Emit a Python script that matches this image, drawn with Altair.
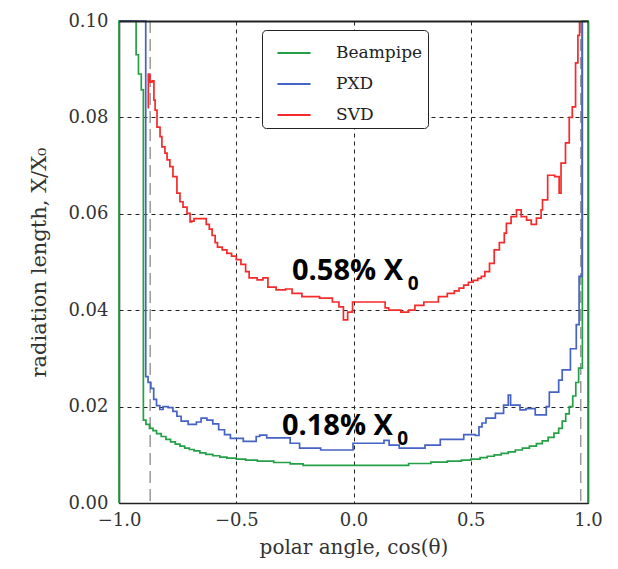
import altair as alt
import pandas as pd

# ---------------- data ----------------
series_names = ["Beampipe", "PXD", "SVD"]
series_colors = ["#23a046", "#4563c4", "#f52a2a"]

beampipe_cos = [-1.0, -1.0, -0.927, -0.917, -0.905, -0.896, -0.885, -0.870, -0.855, -0.840,
                -0.820, -0.800, -0.780, -0.760, -0.740, -0.720, -0.700, -0.680, -0.655, -0.630,
                -0.600, -0.570, -0.540, -0.500, -0.460, -0.410, -0.340, -0.270, -0.215, 0.235,
                0.330, 0.400, 0.460, 0.500, 0.540, 0.570, 0.600, 0.630, 0.660, 0.690,
                0.720, 0.750, 0.780, 0.805, 0.830, 0.855, 0.875, 0.890, 0.905, 0.920,
                0.935, 0.948, 0.960, 0.976, 1.0]
beampipe_x0 = [0.0, 0.5, 0.093, 0.089, 0.0857, 0.0172, 0.0163, 0.0155, 0.0150, 0.0144,
               0.0138, 0.0132, 0.0127, 0.0122, 0.0118, 0.0114, 0.0111, 0.0108, 0.0104, 0.0101,
               0.0098, 0.0095, 0.0093, 0.0091, 0.0089, 0.0087, 0.0084, 0.0081, 0.0078, 0.0082,
               0.0085, 0.0087, 0.0089, 0.0091, 0.0094, 0.0097, 0.0100, 0.0103, 0.0106, 0.0110,
               0.0114, 0.0118, 0.0123, 0.0129, 0.0136, 0.0145, 0.0155, 0.0170, 0.0185, 0.0200,
               0.0222, 0.0250, 0.0280, 0.5, 0.0]

pxd_cos = [-1.0, -0.886, -0.876, -0.864, -0.852, -0.840, -0.826, -0.812, -0.790, -0.770,
           -0.753, -0.735, -0.705, -0.670, -0.650, -0.625, -0.600, -0.575, -0.550, -0.525,
           -0.470, -0.415, -0.400, -0.370, -0.270, -0.230, -0.140, -0.002, 0.130, 0.152,
           0.195, 0.305, 0.370, 0.470, 0.520, 0.535, 0.548, 0.565, 0.605, 0.640,
           0.660, 0.670, 0.710, 0.735, 0.775, 0.822, 0.835, 0.875, 0.890, 0.925,
           0.950, 0.962, 0.975]
pxd_x0 = [0.5, 0.0262, 0.0250, 0.0238, 0.0215, 0.0202, 0.0194, 0.0200, 0.0198, 0.0190,
          0.0180, 0.0170, 0.0163, 0.0168, 0.0176, 0.0172, 0.0164, 0.0152, 0.0142, 0.0134,
          0.0128, 0.0138, 0.0141, 0.0135, 0.0124, 0.0114, 0.0110, 0.0124, 0.0130, 0.0120,
          0.0114, 0.0120, 0.0132, 0.0142, 0.0140, 0.0158, 0.0166, 0.0176, 0.0186, 0.0203,
          0.0224, 0.0203, 0.0193, 0.0196, 0.0183, 0.0200, 0.0230, 0.0255, 0.0276, 0.0320,
          0.0370, 0.0470, 0.5]

svd_cos = [-0.878, -0.875, -0.868, -0.859, -0.851, -0.846, -0.838, -0.825, -0.817, -0.804,
           -0.795, -0.783, -0.770, -0.753, -0.740, -0.727, -0.710, -0.697, -0.690, -0.680,
           -0.640, -0.628, -0.615, -0.603, -0.590, -0.580, -0.560, -0.540, -0.520, -0.500,
           -0.480, -0.460, -0.445, -0.411, -0.386, -0.365, -0.330, -0.290, -0.262, -0.220,
           -0.145, -0.090, -0.062, -0.043, -0.025, -0.004, 0.135, 0.150, 0.202, 0.235,
           0.262, 0.300, 0.362, 0.400, 0.430, 0.450, 0.470, 0.490, 0.510, 0.530,
           0.545, 0.560, 0.580, 0.600, 0.622, 0.643, 0.652, 0.672, 0.695, 0.715,
           0.738, 0.758, 0.780, 0.800, 0.806, 0.828, 0.858, 0.877, 0.885, 0.904,
           0.920, 0.933, 0.947, 0.957, 0.964]
svd_x0 = [0.0820, 0.0890, 0.0873, 0.0876, 0.0836, 0.0815, 0.0780, 0.0760, 0.0739, 0.0726,
          0.0712, 0.0698, 0.0677, 0.0643, 0.0625, 0.0614, 0.0601, 0.0583, 0.0585, 0.0590,
          0.0590, 0.0578, 0.0568, 0.0555, 0.0540, 0.0531, 0.0525, 0.0518, 0.0512, 0.0505,
          0.0495, 0.0480, 0.0467, 0.0463, 0.0467, 0.0448, 0.0442, 0.0444, 0.0435, 0.0428,
          0.0425, 0.0417, 0.0407, 0.0380, 0.0396, 0.0417, 0.0405, 0.0400, 0.0396, 0.0400,
          0.0410, 0.0417, 0.0428, 0.0435, 0.0440, 0.0446, 0.0452, 0.0458, 0.0462, 0.0466,
          0.0470, 0.0480, 0.0497, 0.0525, 0.0540, 0.0560, 0.0580, 0.0594, 0.0608, 0.0594,
          0.0587, 0.0578, 0.0591, 0.0608, 0.0629, 0.0680, 0.0677, 0.0643, 0.0705, 0.0747,
          0.0800, 0.0822, 0.0913, 0.0970, 0.5]

acceptance_cos = [-0.867, 0.969]

x_ticks = [-1.0, -0.5, 0.0, 0.5, 1.0]
y_ticks = [0.0, 0.02, 0.04, 0.06, 0.08, 0.10]

ann_text = ["0.58% X", "0.18% X"]
ann_cos = [0.211, 0.168]
ann_val = [0.0463, 0.0141]
sub_text = ["0", "0"]
sub_cos = [0.231, 0.187]
sub_val = [0.0442, 0.0120]

# ---------------- build tables ----------------
rows = []
for name, xs, ys in zip(series_names, [beampipe_cos, pxd_cos, svd_cos],
                        [beampipe_x0, pxd_x0, svd_x0]):
    for i, (c, v) in enumerate(zip(xs, ys)):
        rows.append({"series": name, "cos": c, "X": v, "i": i})
df = pd.DataFrame(rows)
df_acc = pd.DataFrame({"cos": acceptance_cos})
df_ann = pd.DataFrame({"t": ann_text, "cos": ann_cos, "X": ann_val})
df_sub = pd.DataFrame({"t": sub_text, "cos": sub_cos, "X": sub_val})

serif = "DejaVu Serif"
frame_col = "#222"
xscale = alt.Scale(domain=[-1, 1], nice=False, zero=False)
yscale = alt.Scale(domain=[0, 0.1], nice=False, zero=False, clamp=True)

xaxis = alt.Axis(values=x_ticks, format=".1f", title="polar angle, cos(θ)",
                 grid=True, gridDash=[4, 4], gridColor="#222", gridWidth=1,
                 ticks=False, domain=True, domainColor=frame_col, domainWidth=1.5,
                 labelFlush=False, labelOverlap=False,
                 labelFont=serif, labelFontSize=18, labelColor="#333", labelPadding=8,
                 titleFont=serif, titleFontSize=20, titleFontWeight="normal",
                 titleColor="#333", titlePadding=8)
yaxis = alt.Axis(values=y_ticks, format=".2f", title="radiation length, X/X₀",
                 grid=True, gridDash=[4, 4], gridColor="#222", gridWidth=1,
                 ticks=False, domain=True, domainColor=frame_col, domainWidth=1.5,
                 labelOverlap=False,
                 labelFont=serif, labelFontSize=18, labelColor="#333", labelPadding=11,
                 titleFont=serif, titleFontSize=21, titleFontWeight="normal",
                 titleColor="#333", titlePadding=18)
# frame edges on top and right (no labels)
xaxis_top = alt.Axis(orient="top", values=x_ticks, grid=False, ticks=False, labels=False,
                     title=None, domain=True, domainColor=frame_col, domainWidth=2.2, zindex=2)
yaxis_right = alt.Axis(orient="right", values=y_ticks, grid=False, ticks=False, labels=False,
                       title=None, domain=True, domainColor=frame_col, domainWidth=1.5)

acc = alt.Chart(df_acc).mark_rule(color="#999999", strokeDash=[12, 6], strokeWidth=1.5).encode(
    x=alt.X("cos:Q", scale=xscale, axis=None)
)

lines = alt.Chart(df).mark_line(interpolate="step-after", strokeWidth=1.7).encode(
    x=alt.X("cos:Q", scale=xscale, axis=xaxis),
    y=alt.Y("X:Q", scale=yscale, axis=yaxis),
    color=alt.Color("series:N", scale=alt.Scale(domain=series_names, range=series_colors),
                    legend=alt.Legend(title=None, orient="none", legendX=143, legendY=9,
                                      symbolType="stroke", symbolSize=1100, symbolStrokeWidth=2,
                                      symbolOffset=9, labelOffset=24,
                                      labelFont=serif, labelFontSize=17, labelColor="#222",
                                      padding=5, rowPadding=5, strokeColor="#222",
                                      fillColor="white", cornerRadius=4)),
    order=alt.Order("i:Q"),
)

ann = alt.Chart(df_ann).mark_text(font="Open Sans", fontWeight="bold", fontSize=29,
                                  align="right", baseline="alphabetic", color="black").encode(
    x=alt.X("cos:Q", scale=xscale, axis=None), y=alt.Y("X:Q", scale=yscale, axis=None),
    text="t:N")
sub = alt.Chart(df_sub).mark_text(font="Open Sans", fontWeight="bold", fontSize=19,
                                  align="left", baseline="alphabetic", color="black").encode(
    x=alt.X("cos:Q", scale=xscale, axis=xaxis_top),
    y=alt.Y("X:Q", scale=yscale, axis=yaxis_right),
    text="t:N")

chart = alt.layer(acc, lines, ann, sub).resolve_axis(
    x="independent", y="independent"
).properties(
    width=469, height=482,
    padding={"left": 111, "top": 13, "right": 20, "bottom": 60},
    autosize=alt.AutoSizeParams(type="none"),
    background="white",
).configure_view(stroke=None)

chart.save("out.html", embed_options={"renderer": "svg", "actions": False})
